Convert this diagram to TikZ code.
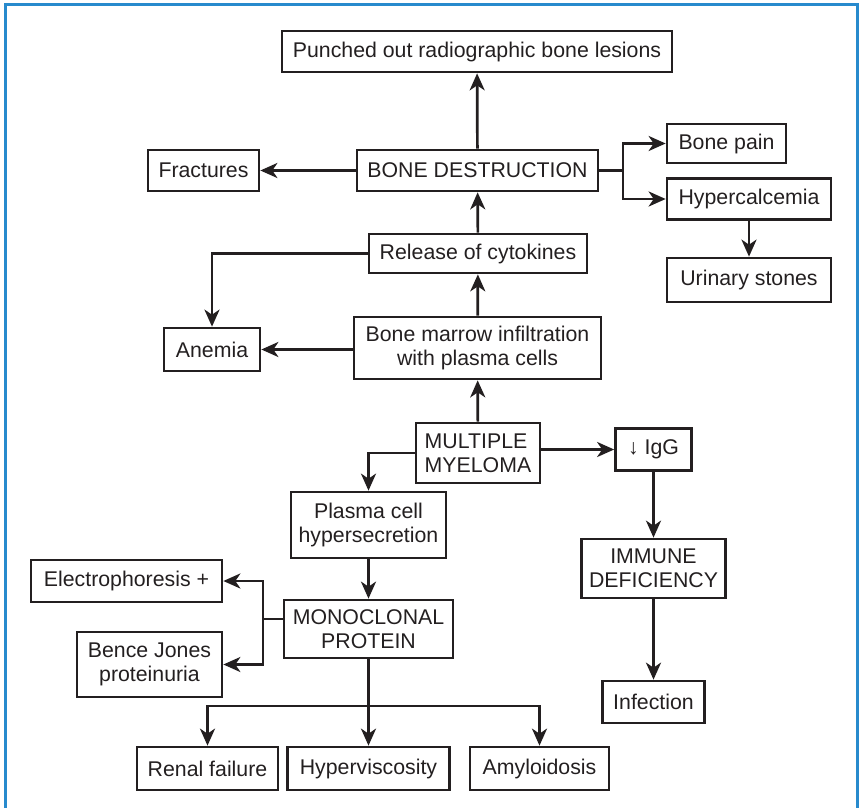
\documentclass[tikz,border=0pt]{standalone}
\usepackage{fontspec}
\setmainfont{Liberation Sans}
\usetikzlibrary{arrows.meta}
\definecolor{ink}{RGB}{35,31,32}
\definecolor{frameblue}{RGB}{40,138,205}
\begin{document}
\begin{tikzpicture}[x=1pt,y=-1pt,
  box/.style={draw=ink, line width=2.7pt, inner sep=0pt, align=center, text=ink,
    font=\fontsize{21.3}{24}\selectfont},
  conn/.style={draw=ink, line width=2.7pt, -{Stealth[length=17pt,width=15pt,inset=5pt]}},
  plain/.style={draw=ink, line width=2.7pt}]
\useasboundingbox (0,0) rectangle (859,808);
\draw[frameblue, line width=3pt] (5,808) -- (5,5) -- (857.5,5) -- (857.5,808);
% nodes
\node[box, minimum width=390pt, minimum height=41pt] (P) at (477,51.5) {Punched out radiographic bone lesions};
\node[box, minimum width=111pt, minimum height=41pt] (Fr) at (203.5,170.5) {Fractures};
\node[box, minimum width=241pt, minimum height=41pt] (BD) at (477.5,170.5) {BONE DESTRUCTION};
\node[box, minimum width=119pt, minimum height=39pt] (BP) at (726.5,143.5) {Bone pain};
\node[box, minimum width=164pt, minimum height=41pt] (HC) at (749,199) {Hypercalcemia};
\node[box, minimum width=164pt, minimum height=44pt] (US) at (749,280) {Urinary stones};
\node[box, minimum width=218pt, minimum height=39pt] (RC) at (478,253.5) {Release of cytokines};
\node[box, minimum width=96pt, minimum height=43pt] (An) at (212,349.5) {Anemia};
\node[box, minimum width=247pt, minimum height=62pt] (BM) at (477.5,348) {Bone marrow infiltration\\with plasma cells};
\node[box, minimum width=124pt, minimum height=60pt, align=left] (MM) at (478,453) {MULTIPLE\\MYELOMA};
\node[box, minimum width=76pt, minimum height=42pt] (Ig) at (653.5,449.5) {↓ IgG};
\node[box, minimum width=144pt, minimum height=59pt] (ID) at (653.5,568.5) {IMMUNE\\DEFICIENCY};
\node[box, minimum width=102pt, minimum height=42pt] (In) at (653.5,702) {Infection};
\node[box, minimum width=155pt, minimum height=66pt] (PC) at (368.5,525) {Plasma cell\\hypersecretion};
\node[box, minimum width=169pt, minimum height=58pt] (MP) at (368.5,629) {MONOCLONAL\\PROTEIN};
\node[box, minimum width=191pt, minimum height=42pt] (EP) at (126.5,581) {Electrophoresis +};
\node[box, minimum width=145pt, minimum height=65pt] (BJ) at (149.5,664.5) {Bence Jones\\proteinuria};
\node[box, minimum width=141pt, minimum height=43pt] (RF) at (207.5,768.5) {Renal failure};
\node[box, minimum width=162pt, minimum height=43pt] (HV) at (368.5,768.5) {Hyperviscosity};
\node[box, minimum width=139pt, minimum height=43pt] (AM) at (539.5,768.5) {Amyloidosis};
% branch points
\coordinate (bdb) at (623,170.5);
\coordinate (mpb) at (263,619);
\coordinate (hvb) at (368.5,706);
% connectors
\draw[conn] (BD) -- (P);
\draw[conn] (BD) -- (Fr);
\draw[plain] (BD.east) -- (bdb);
\draw[conn] (bdb) |- (BP.west);
\draw[conn] (bdb) |- (HC.west);
\draw[conn] (HC) -- (US);
\draw[conn] (RC) -- (BD);
\draw[conn] (RC.west) -| (An.north);
\draw[conn] (BM) -- (RC);
\draw[conn] (An.east -| BM.west) -- (An.east);
\draw[conn] (MM) -- (BM);
\draw[conn] (MM.east |- Ig.west) -- (Ig.west);
\draw[conn] (Ig) -- (ID);
\draw[conn] (ID) -- (In);
\draw[conn] (MM.west) -| (PC.north);
\draw[conn] (PC) -- (MP);
\draw[plain] (MP.west |- mpb) -- (mpb);
\draw[conn] (mpb) |- (EP.east);
\draw[conn] (mpb) |- (BJ.east);
\draw[conn] (MP) -- (HV);
\draw[conn] (hvb) -| (RF.north);
\draw[conn] (hvb) -| (AM.north);
\end{tikzpicture}
\end{document}
